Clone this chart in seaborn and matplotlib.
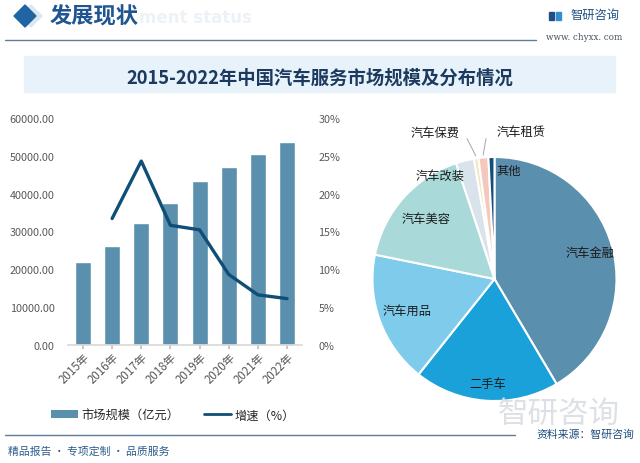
import numpy as np
import pandas as pd
import matplotlib
matplotlib.use("Agg")
import matplotlib.pyplot as plt
from matplotlib.patches import Rectangle, Polygon, Patch
from matplotlib.lines import Line2D
from matplotlib.ticker import FuncFormatter, PercentFormatter
import seaborn as sns

# ---------------- data ----------------
years = ["2015年", "2016年", "2017年", "2018年", "2019年", "2020年", "2021年", "2022年"]
market_size = [22000, 26000, 32300, 37500, 43200, 47100, 50400, 53600]   # 亿元
growth = [np.nan, 0.167, 0.243, 0.158, 0.152, 0.093, 0.066, 0.061]       # 增速

pie_labels = ["汽车金融", "二手车", "汽车用品", "汽车美容", "汽车改装", "汽车保费", "汽车租赁", "其他"]
pie_values = [41.5, 19.2, 17.5, 16.7, 2.4, 0.6, 1.3, 0.8]

# ---------------- style ----------------
sns.set_theme(style="white")
plt.rcParams['font.family'] = ['Noto Sans CJK SC', 'DejaVu Sans']
plt.rcParams['axes.unicode_minus'] = False

W, H = 640, 464
fig = plt.figure(figsize=(W / 100, H / 100), dpi=100)
fig.patch.set_facecolor("white")

def fx(px):
    return px / W

def fy(py):
    return 1 - py / H

BAR_C = "#5b8fae"
LINE_C = "#0f4e76"
TICK_C = "#595959"

# ---------------- header ----------------
fig.text(fx(139), fy(18), "ment status", fontsize=12, fontweight="bold", color="#edf2f7",
         ha="left", va="center", family="DejaVu Sans", zorder=0)
fig.add_artist(Polygon([[fx(20), fy(17)], [fx(31), fy(6)], [fx(42), fy(17)], [fx(31), fy(28)]],
                       closed=True, transform=fig.transFigure, color="#dde7f1", zorder=1))
fig.add_artist(Polygon([[fx(14), fy(17)], [fx(25), fy(6)], [fx(36), fy(17)], [fx(25), fy(28)]],
                       closed=True, transform=fig.transFigure, color="#1f65a3", zorder=2))
fig.text(fx(50), fy(17), "发展现状", fontsize=16, fontweight="bold", color="#1f5590",
         ha="left", va="center", zorder=3)
fig.add_artist(Line2D([fx(5), fx(536)], [fy(41), fy(41)], transform=fig.transFigure,
                      color="#5f7d96", lw=1.0))
# logo
fig.add_artist(Rectangle((fx(549), fy(21)), fx(5), 8 / H, transform=fig.transFigure, color="#1f4f86"))
fig.add_artist(Rectangle((fx(555.5), fy(21)), fx(5), 8 / H, transform=fig.transFigure, color="#2f8fd0"))
fig.text(fx(571), fy(15), "智研咨询", fontsize=8.8, color="#1f4f80", ha="left", va="center")
fig.text(fx(584), fy(37), "www. chyxx. com", fontsize=6.3, color="#4a5560", ha="center", va="center",
         family="DejaVu Serif")

# ---------------- title band ----------------
fig.add_artist(Rectangle((fx(24), fy(93)), fx(591), 36 / H, transform=fig.transFigure,
                         color="#e8f2fb", zorder=0))
fig.text(fx(320), fy(78), "2015-2022年中国汽车服务市场规模及分布情况", fontsize=13.2,
         fontweight="bold", color="#1b3a5e", ha="center", va="center")

# ---------------- bar + line chart ----------------
ax = fig.add_axes([fx(68.4), fy(345.7), fx(301.6) - fx(68.4), (345.7 - 119) / H])
df = pd.DataFrame({"year": years, "size": market_size, "growth": growth, "idx": np.arange(len(years))})
sns.barplot(data=df, x="year", y="size", color=BAR_C, width=0.55, saturation=1, ax=ax, zorder=2)
ax.set_ylim(0, 60000)
ax.set_xlim(-0.5, len(years) - 0.5)
ax.set_yticks(np.arange(0, 60001, 10000))
ax.yaxis.set_major_formatter(FuncFormatter(lambda v, p: f"{v:.2f}"))
ax.set_xlabel("")
ax.set_ylabel("")
for s in ["top", "right", "left"]:
    ax.spines[s].set_visible(False)
ax.spines["bottom"].set_color("#d9d9d9")
ax.tick_params(axis="y", labelsize=7.8, colors=TICK_C, length=0, pad=10)
ax.tick_params(axis="x", labelsize=8.3, colors=TICK_C, length=3, color="#bfbfbf", bottom=True, pad=1)
for lab in ax.get_xticklabels():
    lab.set_rotation(45)
    lab.set_ha("right")
    lab.set_rotation_mode("anchor")

ax2 = ax.twinx()
sns.lineplot(data=df.dropna(), x="idx", y="growth", color=LINE_C, lw=2.4, ax=ax2, zorder=3)
ax2.set_ylim(0, 0.30)
ax2.set_xlim(-0.5, len(years) - 0.5)
ax2.set_yticks(np.arange(0, 0.301, 0.05))
ax2.yaxis.set_major_formatter(PercentFormatter(1.0, decimals=0))
ax2.set_xlabel("")
ax2.set_ylabel("")
for s in ["top", "right", "left", "bottom"]:
    ax2.spines[s].set_visible(False)
ax2.tick_params(axis="y", labelsize=7.8, colors=TICK_C, length=0, pad=12)

handles = [Patch(facecolor=BAR_C, edgecolor="none"), Line2D([0], [0], color=LINE_C, lw=2)]
fig.legend(handles, ["市场规模（亿元）", "增速（%）"], loc="center", bbox_to_anchor=(fx(173), fy(416)),
           ncol=2, frameon=False, fontsize=8.8, handlelength=2.2, handleheight=0.6,
           columnspacing=2.0, handletextpad=0.3, labelcolor="#262626")

# ---------------- pie ----------------
R = 122
pax = fig.add_axes([fx(494.5 - R), fy(280 + R), 2 * R / W, 2 * R / H])
pie_colors = ["#5b8fae", "#1ba1d9", "#7ecbec", "#a9d9d9", "#d9e3ec", "#f3e6c2", "#f5c8bd", "#0f4f7b"]
wedges, _ = pax.pie(pie_values, startangle=90, counterclock=False, colors=pie_colors,
                    wedgeprops=dict(edgecolor="white", linewidth=1.5))
pax.set_xlim(-1, 1)
pax.set_ylim(-1, 1)

LBL_C = "#1a1a1a"
FS = 8.8
def mid_angle(w):
    return np.deg2rad((w.theta1 + w.theta2) / 2)

# big slices: labels inside at radial factor
inside = {0: 0.81, 1: 0.86, 2: 0.76, 3: 0.75}
for i, rf in inside.items():
    a = mid_angle(wedges[i])
    pax.text(rf * np.cos(a), rf * np.sin(a), pie_labels[i], fontsize=FS, color=LBL_C,
             ha="center", va="center")

# small slices (layout positions in pie-axes units)
pax.text(-0.45, 0.845, pie_labels[4], fontsize=FS, color=LBL_C, ha="center", va="center")
pax.text(0.115, 0.893, pie_labels[7], fontsize=FS, color=LBL_C, ha="center", va="center")
pax.text(-0.49, 1.205, pie_labels[5], fontsize=FS, color=LBL_C, ha="center", va="center")
pax.text(0.215, 1.213, pie_labels[6], fontsize=FS, color=LBL_C, ha="center", va="center")
for i, start in [(5, (-0.225, 1.15)), (6, (-0.07, 1.15))]:
    a = mid_angle(wedges[i])
    pax.plot([start[0], 1.02 * np.cos(a)], [start[1], 1.02 * np.sin(a)], color="#a6a6a6",
             lw=0.7, clip_on=False)

# ---------------- footer ----------------
fig.text(fx(620), fy(414), "智研咨询", fontsize=22, color="#dde0e4", ha="right", va="center", zorder=0)
fig.add_artist(Line2D([fx(5), fx(515)], [fy(436), fy(436)], transform=fig.transFigure,
                      color="#5f7d96", lw=1.0))
fig.text(fx(8), fy(452), "精品报告 · 专项定制 · 品质服务", fontsize=7.8, color="#2b5c8c",
         ha="left", va="center")
fig.text(fx(634), fy(435), "资料来源：智研咨询", fontsize=7.8, color="#1d4c7c",
         ha="right", va="center")

fig.savefig("out.png", dpi=100, facecolor="white")
